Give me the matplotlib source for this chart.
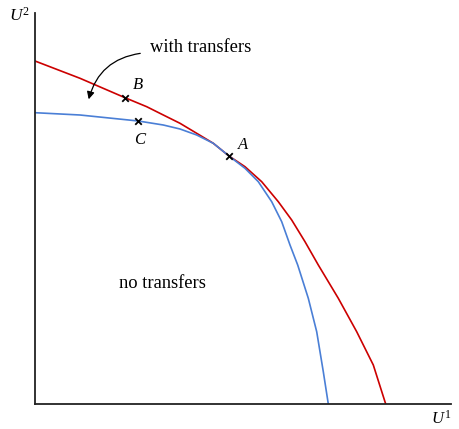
import matplotlib
matplotlib.use("Agg")
import matplotlib.pyplot as plt

# utility possibility frontiers
red_u1 = [0.0, 0.45, 0.90, 1.117, 1.283, 1.45, 1.617, 1.783, 1.94, 2.10, 2.267,
          2.433, 2.567, 2.70, 2.833, 3.033, 3.217, 3.383, 3.507]
red_u2 = [3.43, 3.257, 3.063, 2.973, 2.89, 2.807, 2.707, 2.607, 2.48, 2.373, 2.223,
          2.023, 1.84, 1.623, 1.39, 1.057, 0.723, 0.39, 0.0]

blue_u1 = [0.0, 0.45, 1.033, 1.283, 1.45, 1.617, 1.783, 1.94, 2.10, 2.233, 2.367,
           2.467, 2.55, 2.627, 2.733, 2.817, 2.883, 2.933]
blue_u2 = [2.913, 2.89, 2.83, 2.79, 2.75, 2.69, 2.607, 2.48, 2.357, 2.223, 2.023,
           1.823, 1.59, 1.39, 1.057, 0.723, 0.323, 0.0]

point_names = ["A", "B", "C"]
point_u1 = [1.94, 0.90, 1.033]
point_u2 = [2.48, 3.063, 2.83]

plt.rcParams["font.family"] = ["Liberation Serif", "DejaVu Serif"]
plt.rcParams["mathtext.fontset"] = "custom"
plt.rcParams["mathtext.it"] = "Liberation Serif:italic"
plt.rcParams["mathtext.rm"] = "Liberation Serif"

fig = plt.figure(figsize=(4.59, 4.29), dpi=100)
ax = fig.add_axes([35 / 459, 25 / 429, 416 / 459, 391 / 429])

ax.plot(red_u1, red_u2, color="#cc0000", lw=1.2, solid_joinstyle="round")
ax.plot(blue_u1, blue_u2, color="#4a7fd6", lw=1.2, solid_joinstyle="round")
ax.scatter(point_u1, point_u2, marker="x", color="black", s=22, lw=1.3, zorder=5)

label_offsets = {"A": (0.14, 0.11), "B": (0.13, 0.13), "C": (0.01, -0.19)}
for name, u1, u2 in zip(point_names, point_u1, point_u2):
    dx, dy = label_offsets[name]
    ax.text(u1 + dx, u2 + dy, name, fontsize=12, style="italic", ha="center", va="center")

ax.text(1.66, 3.57, "with transfers", fontsize=13.3, ha="center", va="center")
ax.text(1.27, 1.21, "no transfers", fontsize=13.3, ha="center", va="center")
ax.annotate("", xy=(0.53, 3.02), xytext=(1.08, 3.51),
            arrowprops=dict(arrowstyle="-|>", color="black", lw=0.9,
                            connectionstyle="arc3,rad=0.35", mutation_scale=11))

ax.text(-0.16, 3.88, "$U^2$", fontsize=12.5, ha="center", va="center", clip_on=False)
ax.text(4.06, -0.15, "$U^1$", fontsize=12, ha="center", va="center", clip_on=False)

ax.set_xlim(0, 4.16)
ax.set_ylim(0, 3.91)
for side in ["top", "right"]:
    ax.spines[side].set_visible(False)
for side in ["left", "bottom"]:
    ax.spines[side].set_linewidth(1.3)
    ax.spines[side].set_color("#222222")
ax.set_xticks([])
ax.set_yticks([])

fig.savefig("out.png", dpi=100)
